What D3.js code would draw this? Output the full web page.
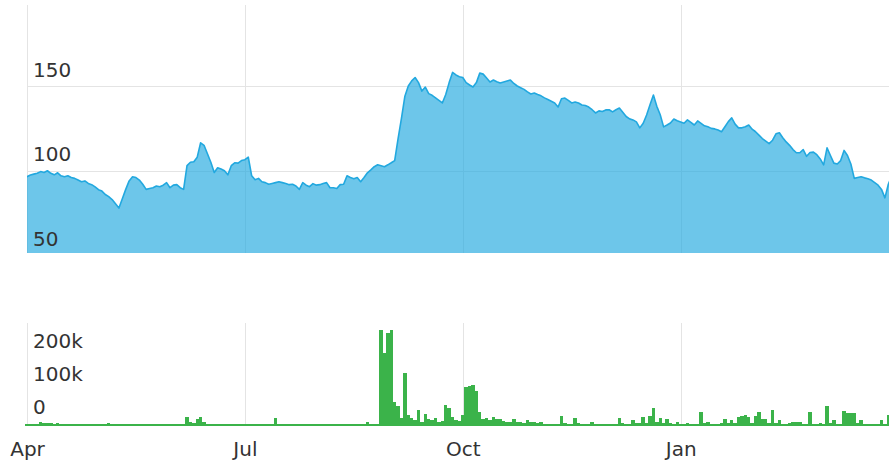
<!DOCTYPE html>
<html>
<head>
<meta charset="utf-8">
<script src="https://cdn.jsdelivr.net/npm/d3@7"></script>
<style>
  body { margin: 0; background: #fff; }
  .grid line { stroke: #e4e4e4; shape-rendering: crispEdges; }
  .grid path { display: none; }
  .labels path { display: none; }
  .labels text { font-family: "DejaVu Sans", Verdana, sans-serif; font-size: 20px; fill: #333; }
</style>
</head>
<body>
<svg id="chart" width="889" height="461"></svg>
<script>
// one value per trading day, Apr -> end of Mar
var closePrice = [
  96.5, 97.5, 98, 98.5, 99.5, 99, 100, 98.5, 97.6, 98.8,
  97, 96.5, 97, 96, 95.5, 94.5, 93.5, 94, 92.5, 91.8,
  90.5, 88.8, 88, 86, 84.7, 83, 80.5, 78, 83.5, 89,
  94, 96.5, 96, 94.5, 92, 89, 89.5, 90, 91, 90.6,
  91.5, 93, 90, 91.5, 91.8, 90, 89, 103, 105, 105.3,
  108, 116.5, 115, 110, 105, 99, 101.8, 101, 100, 97.6,
  103, 104.7, 104.5, 106, 106.5, 108, 97, 94.7, 95.5, 93.5,
  93, 92, 92.5, 93, 93.5, 93, 92.5, 91.8, 92, 91,
  89, 93, 91.5, 90.6, 92.4, 91.5, 91.8, 92.5, 93, 90,
  90, 89.5, 91.8, 92, 97, 96, 95.3, 96, 93.5, 96,
  98.8, 100.5, 102.4, 103.5, 103, 102.4, 103.5, 104.7, 106, 119,
  131, 144, 150, 153, 155, 152, 147, 149.4, 145.5, 144.5,
  143, 141.5, 140, 145, 152, 158, 156.5, 155.5, 155, 152,
  150.6, 149.4, 152, 157.6, 157, 154.7, 152.4, 153.5, 152.5, 151.8,
  152.4, 153, 153.5, 151.5, 150, 149, 148, 146.5, 145.3, 145.9,
  145, 144.2, 143, 142, 141, 140, 137.6, 142.5, 142.9, 141.5,
  140, 140.6, 140, 138.8, 138.5, 137.6, 136, 134.1, 135.3, 135,
  135.9, 136, 134.7, 136, 137, 134.5, 132, 130.6, 130, 128.8,
  125.3, 128, 132.9, 139, 144.7, 138, 133, 125.9, 127, 128.2,
  130.5, 129.5, 128.8, 128, 130, 128.5, 127, 129.4, 128, 126.5,
  125.9, 125, 124.7, 124, 123, 126, 129, 131.2, 127.5, 125.3,
  125.3, 126, 127, 124.5, 123, 121, 119, 117.5, 116, 118,
  121.8, 122.4, 119.5, 117, 115, 112.5, 110.6, 110.6, 112.5, 108.5,
  110.8, 111, 109.5, 107, 103.5, 113.5, 109, 104.5, 104, 106,
  112, 109, 104, 95.5, 96, 96.5, 95.8, 95.3, 94.5, 93,
  91.5, 89, 84, 92, 97
];

// volume in thousands
var volume = [
  5, 5, 5, 5, 13, 9, 9, 8, 5, 8,
  5, 5, 5, 5, 5, 5, 5, 5, 5, 5,
  5, 5, 5, 5, 8, 5, 5, 5, 5, 5,
  5, 5, 5, 5, 5, 5, 5, 5, 5, 5,
  5, 5, 5, 5, 5, 5, 5, 28, 12, 8,
  22, 28, 12, 6, 5, 5, 5, 5, 5, 5,
  5, 5, 5, 5, 7, 5, 7, 5, 5, 7,
  5, 5, 5, 25, 5, 5, 5, 5, 5, 5,
  5, 5, 5, 5, 5, 5, 5, 5, 5, 5,
  5, 5, 5, 5, 7, 5, 5, 5, 5, 5,
  13, 5, 6, 5, 288, 219, 279, 288, 73, 60,
  24, 160, 33, 24, 18, 48, 13, 36, 20, 18,
  24, 13, 15, 63, 54, 28, 18, 15, 33, 118,
  121, 123, 105, 43, 20, 24, 18, 27, 22, 21,
  15, 13, 12, 20, 12, 13, 10, 18, 12, 13,
  8, 13, 7, 7, 6, 6, 7, 30, 10, 7,
  7, 24, 8, 6, 6, 7, 13, 6, 6, 6,
  6, 6, 6, 7, 24, 8, 6, 7, 18, 8,
  9, 26, 10, 30, 54, 12, 24, 9, 20, 8,
  7, 12, 6, 7, 9, 6, 6, 7, 43, 8,
  12, 6, 6, 7, 8, 20, 9, 18, 8, 28,
  30, 33, 28, 9, 30, 43, 22, 20, 8, 48,
  8, 18, 7, 7, 10, 13, 13, 13, 7, 6,
  43, 7, 6, 9, 7, 60, 9, 18, 7, 6,
  46, 38, 38, 40, 8, 18, 7, 6, 6, 7,
  6, 18, 7, 33, 10
];

// month ticks: trading-day index of first session of the month
var monthIndex = [0, 64, 128, 192];
var monthLabels = ["Apr", "Jul", "Oct", "Jan"];
var priceTicks = [50, 100, 150];
var volumeTicks = [0, 100, 200];

var left = 27, right = 889;
var price = {top: 5, bottom: 253};
var vol = {top: 323, bottom: 426};

var svg = d3.select("#chart");

var x = d3.scaleLinear()
  .domain([0, 253.2])
  .range([left, right]);

var y = d3.scaleLinear()
  .domain([50, 150])
  .range([255.5, 86]);

var yVol = d3.scaleLinear()
  .domain([0, 200])
  .range([vol.bottom, 359.4]);

svg.append("clipPath").attr("id", "clipPrice")
  .append("rect")
  .attr("x", left).attr("y", price.top)
  .attr("width", right - left).attr("height", price.bottom - price.top);

// price panel grid
svg.append("g")
  .attr("class", "grid")
  .attr("transform", "translate(0," + price.bottom + ")")
  .call(d3.axisBottom(x).tickValues(monthIndex).tickSize(-(price.bottom - price.top)).tickFormat(""));

svg.append("g")
  .attr("class", "grid")
  .attr("transform", "translate(" + left + ",0)")
  .call(d3.axisLeft(y).tickValues([100, 150]).tickSize(-(right - left)).tickFormat(""));

// price area
var area = d3.area()
  .x(function (d, i) { return x(i); })
  .y0(price.bottom)
  .y1(function (d) { return y(d); });

var line = d3.line()
  .x(function (d, i) { return x(i); })
  .y(function (d) { return y(d); });

var pg = svg.append("g").attr("clip-path", "url(#clipPrice)");

pg.append("path")
  .datum(closePrice)
  .attr("d", area)
  .attr("fill", "#1ea7de")
  .attr("fill-opacity", 0.65);

pg.append("path")
  .datum(closePrice)
  .attr("d", line)
  .attr("fill", "none")
  .attr("stroke", "#22a8df")
  .attr("stroke-width", 1.6)
  .attr("stroke-linejoin", "round");

// price labels sit inside the plot, just above their gridline
var pl = svg.append("g")
  .attr("class", "labels")
  .attr("transform", "translate(" + left + ",0)")
  .call(d3.axisRight(y).tickValues(priceTicks).tickSize(0).tickPadding(6));
pl.selectAll("text")
  .attr("dy", "-0.5em")
  .attr("font-family", null).attr("font-size", null);
pl.attr("font-family", null).attr("font-size", null);

// volume panel grid
svg.append("g")
  .attr("class", "grid")
  .attr("transform", "translate(0," + vol.bottom + ")")
  .call(d3.axisBottom(x).tickValues(monthIndex).tickSize(-(vol.bottom - vol.top)).tickFormat(""));

var bw = x(1) - x(0);

svg.append("g")
  .selectAll("rect")
  .data(volume)
  .enter().append("rect")
  .attr("x", function (d, i) { return x(i) - bw / 2; })
  .attr("y", function (d) { return yVol(d); })
  .attr("width", bw)
  .attr("height", function (d) { return vol.bottom - yVol(d); })
  .attr("fill", "#3bb34a")
  .attr("shape-rendering", "crispEdges");

var vl = svg.append("g")
  .attr("class", "labels")
  .attr("transform", "translate(" + left + ",0)")
  .call(d3.axisRight(yVol).tickValues(volumeTicks).tickSize(0).tickPadding(6)
    .tickFormat(function (d) { return d === 0 ? "0" : d + "k"; }));
vl.selectAll("text").attr("dy", "-0.62em");
vl.attr("font-family", null).attr("font-size", null);

// month labels
var xl = svg.append("g")
  .attr("class", "labels")
  .attr("transform", "translate(0," + vol.bottom + ")")
  .call(d3.axisBottom(x).tickValues(monthIndex).tickSize(0).tickPadding(0)
    .tickFormat(function (d, i) { return monthLabels[i]; }));
xl.selectAll("text").attr("dy", null).attr("y", 30);
xl.attr("font-family", null).attr("font-size", null);
</script>
</body>
</html>
